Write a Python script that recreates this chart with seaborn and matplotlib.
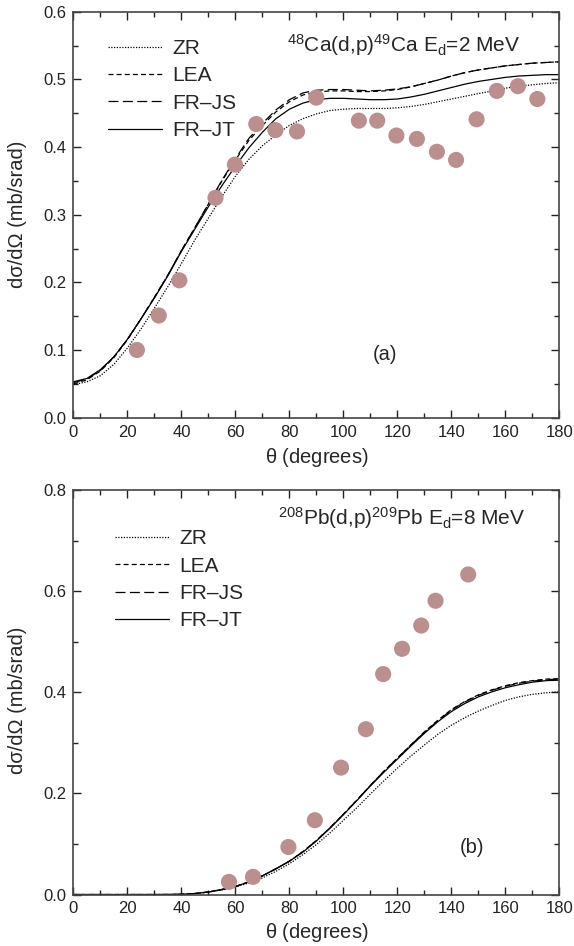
import numpy as np
import pandas as pd
import matplotlib
matplotlib.use("Agg")
import matplotlib.pyplot as plt
import seaborn as sns

# ---------------- data: panel (a) 48Ca(d,p) Ed = 2 MeV ----------------
theta = [0, 5, 10, 15, 20, 25, 30, 35, 40, 45, 50, 55, 60, 65, 70, 75, 80, 85, 90,
         95, 100, 105, 110, 115, 120, 125, 130, 135, 140, 145, 150, 155, 160, 165,
         170, 175, 180]

a_zr = [0.049, 0.053, 0.062, 0.079, 0.103, 0.131, 0.162, 0.194, 0.228, 0.263, 0.295,
        0.327, 0.357, 0.382, 0.402, 0.418, 0.432, 0.442, 0.449, 0.454, 0.456, 0.457,
        0.457, 0.457, 0.458, 0.460, 0.463, 0.467, 0.471, 0.475, 0.479, 0.483, 0.487,
        0.490, 0.492, 0.494, 0.495]
a_lea = [0.050, 0.056, 0.069, 0.089, 0.115, 0.146, 0.178, 0.211, 0.247, 0.281, 0.316,
         0.350, 0.381, 0.410, 0.432, 0.452, 0.467, 0.477, 0.481, 0.483, 0.483, 0.482,
         0.482, 0.483, 0.485, 0.489, 0.494, 0.499, 0.505, 0.510, 0.514, 0.517, 0.520,
         0.522, 0.524, 0.525, 0.526]
a_frjs = [0.052, 0.057, 0.070, 0.090, 0.116, 0.146, 0.178, 0.211, 0.247, 0.281, 0.316,
          0.351, 0.383, 0.413, 0.435, 0.455, 0.470, 0.480, 0.484, 0.485, 0.485, 0.484,
          0.483, 0.484, 0.486, 0.489, 0.494, 0.499, 0.505, 0.510, 0.514, 0.517, 0.520,
          0.522, 0.524, 0.525, 0.526]
a_frjt = [0.053, 0.058, 0.071, 0.090, 0.116, 0.146, 0.177, 0.210, 0.246, 0.279, 0.312,
          0.343, 0.372, 0.399, 0.422, 0.442, 0.456, 0.465, 0.470, 0.472, 0.472, 0.471,
          0.470, 0.470, 0.471, 0.474, 0.478, 0.483, 0.488, 0.493, 0.497, 0.500, 0.503,
          0.505, 0.506, 0.507, 0.507]

a_exp_theta = [23.5, 31.6, 39.2, 52.6, 59.8, 67.7, 74.8, 82.8, 89.9, 105.7, 112.5,
               119.6, 127.2, 134.6, 141.7, 149.3, 156.8, 164.6, 171.8]
a_exp_xs = [0.100, 0.151, 0.203, 0.325, 0.374, 0.434, 0.425, 0.423, 0.473, 0.439,
            0.439, 0.417, 0.412, 0.393, 0.381, 0.441, 0.483, 0.490, 0.471]

# ---------------- data: panel (b) 208Pb(d,p) Ed = 8 MeV ----------------
b_zr = [0.0, 0.0, 0.0, 0.0, 0.0, 0.0, 0.0, 0.0001, 0.0005, 0.002, 0.005, 0.009, 0.015,
        0.023, 0.033, 0.046, 0.061, 0.079, 0.099, 0.122, 0.147, 0.172, 0.199, 0.225,
        0.250, 0.274, 0.296, 0.317, 0.335, 0.350, 0.363, 0.374, 0.384, 0.391, 0.396,
        0.399, 0.401]
b_lea = [0.0, 0.0, 0.0, 0.0, 0.0, 0.0, 0.0, 0.0001, 0.0005, 0.002, 0.005, 0.010, 0.016,
         0.025, 0.037, 0.051, 0.066, 0.085, 0.107, 0.132, 0.159, 0.187, 0.216, 0.244,
         0.270, 0.296, 0.322, 0.345, 0.366, 0.382, 0.395, 0.405, 0.413, 0.419, 0.423,
         0.426, 0.427]
b_frjs = [0.0, 0.0, 0.0, 0.0, 0.0, 0.0, 0.0, 0.0001, 0.0005, 0.002, 0.005, 0.010, 0.016,
          0.025, 0.037, 0.051, 0.066, 0.085, 0.107, 0.132, 0.159, 0.187, 0.216, 0.244,
          0.270, 0.296, 0.321, 0.344, 0.365, 0.381, 0.394, 0.404, 0.412, 0.418, 0.422,
          0.425, 0.426]
b_frjt = [0.0, 0.0, 0.0, 0.0, 0.0, 0.0, 0.0, 0.0001, 0.0005, 0.002, 0.005, 0.010, 0.016,
          0.025, 0.037, 0.051, 0.066, 0.084, 0.106, 0.131, 0.158, 0.186, 0.215, 0.242,
          0.268, 0.294, 0.319, 0.342, 0.362, 0.378, 0.391, 0.401, 0.409, 0.415, 0.420,
          0.423, 0.424]

b_exp_theta = [57.6, 66.5, 79.6, 89.4, 99.1, 108.3, 114.7, 121.7, 128.8, 134.1, 146.2]
b_exp_xs = [0.025, 0.035, 0.094, 0.147, 0.251, 0.327, 0.436, 0.486, 0.532, 0.581, 0.633]

labels = ["ZR", "LEA", "FR\u2013JS", "FR\u2013JT"]

# ---------------- styling ----------------
sns.set_theme(style="ticks")
plt.rcParams['font.family'] = ['Liberation Sans', 'DejaVu Sans']
plt.rcParams['mathtext.default'] = 'regular'
plt.rcParams['axes.edgecolor'] = '#444444'

styles = [dict(linestyle=(0, (1, 1.2)), linewidth=0.9),
          dict(linestyle=(0, (4, 2.5)), linewidth=0.9),
          dict(linestyle=(0, (8, 3.5)), linewidth=0.9),
          dict(linestyle='-', linewidth=0.9)]

fig = plt.figure(figsize=(5.74, 9.46), dpi=100)
ax1 = fig.add_axes([0.128, 0.5585, 0.8467, 0.4291])
ax2 = fig.add_axes([0.128, 0.0544, 0.8467, 0.4276])


def draw(ax, curves, ex_t, ex_y):
    for ys, lab, st in zip(curves, labels, styles):
        sns.lineplot(x=theta, y=ys, ax=ax, color='black', label=lab, **st)
    sns.scatterplot(x=ex_t, y=ex_y, ax=ax, color='#bc8f8f', s=135,
                    edgecolor='none', zorder=3)


draw(ax1, [a_zr, a_lea, a_frjs, a_frjt], a_exp_theta, a_exp_xs)
draw(ax2, [b_zr, b_lea, b_frjs, b_frjt], b_exp_theta, b_exp_xs)

for ax, ymax, ymaj, ymin, xly, yly in [(ax1, 0.6, 0.1, 0.05, -0.070, 0.5),
                                       (ax2, 0.8, 0.2, 0.1, -0.066, 0.48)]:
    ax.set_xlim(0, 180)
    ax.set_ylim(0, ymax)
    ax.set_xticks(np.arange(0, 181, 20))
    ax.set_xticks(np.arange(0, 181, 10), minor=True)
    ax.set_yticks(np.arange(0, ymax + 1e-9, ymaj))
    ax.set_yticks(np.arange(0, ymax + 1e-9, ymin), minor=True)
    ax.yaxis.set_major_formatter(matplotlib.ticker.FormatStrFormatter('%.1f'))
    ax.tick_params(which='both', direction='in', top=True, right=True,
                   colors='#222222', labelsize=12, width=1.0, pad=5)
    ax.tick_params(which='major', length=6)
    ax.tick_params(which='minor', length=3.5)
    for sp in ax.spines.values():
        sp.set_linewidth(1.2)
    ax.set_xlabel(r"$\theta$ (degrees)", fontsize=14.5, va='top')
    ax.xaxis.set_label_coords(0.5, xly)
    ax.set_ylabel("d\u03c3/d\u03a9 (mb/srad)", fontsize=14.5)
    ax.yaxis.set_label_coords(-0.096, yly)

leg_kw = dict(loc='upper left', frameon=False, fontsize=15, handlelength=2.6,
              handletextpad=0.5, labelspacing=0.4, borderaxespad=0, borderpad=0)
ax1.legend(bbox_to_anchor=(0.071, 0.933), **leg_kw)
ax2.legend(bbox_to_anchor=(0.085, 0.903), **leg_kw)

ax1.text(0.439, 0.918, r"$^{48}$Ca(d,p)$^{49}$Ca E$_{d}$=2 MeV", transform=ax1.transAxes,
         ha='left', va='center', fontsize=15)
ax2.text(0.421, 0.931, r"$^{208}$Pb(d,p)$^{209}$Pb E$_{d}$=8 MeV", transform=ax2.transAxes,
         ha='left', va='center', fontsize=15)
ax1.text(115.4, 0.093, "(a)", ha='center', va='center', fontsize=14.5)
ax2.text(147.5, 0.094, "(b)", ha='center', va='center', fontsize=14.5)

fig.savefig("out.png", dpi=100)
